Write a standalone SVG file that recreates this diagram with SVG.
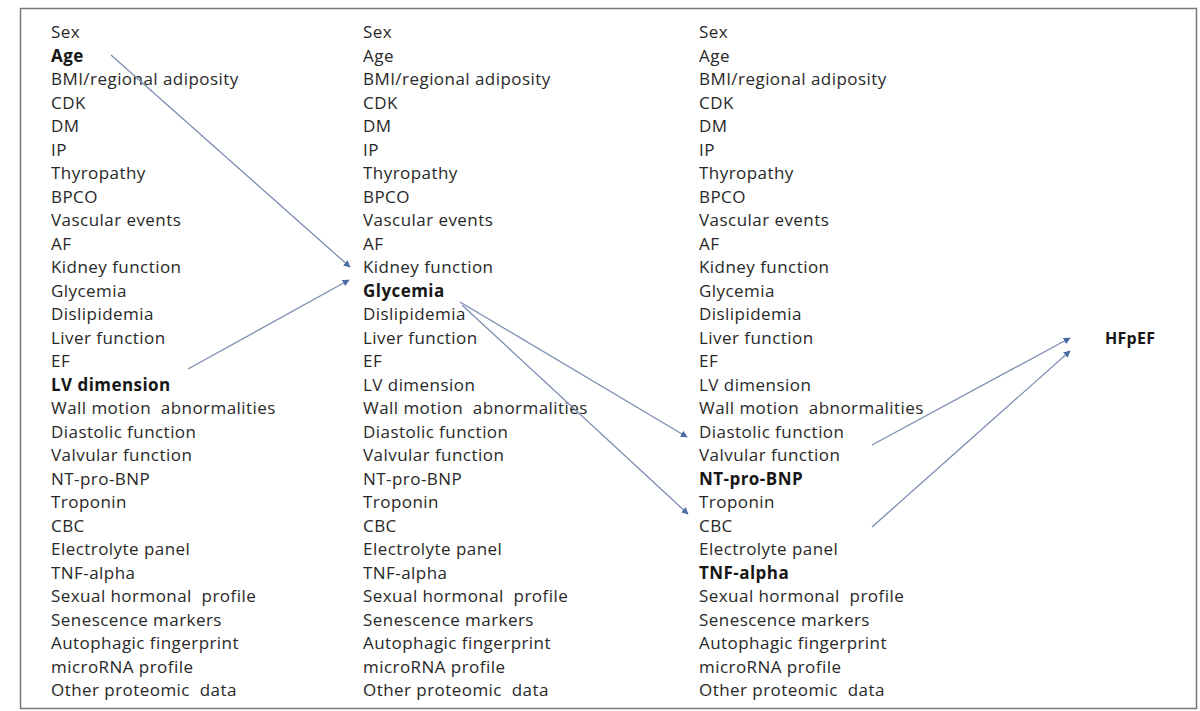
<svg xmlns="http://www.w3.org/2000/svg" width="1200" height="711" viewBox="0 0 1200 711">
<style>
text{font-family:"Open Sans",Lato,"Liberation Sans",sans-serif;font-size:17px;letter-spacing:0.45px;fill:#282828;white-space:pre}
.b{font-weight:bold;fill:#161616}
.c line{stroke:#7b8db0;stroke-width:1.3;marker-end:url(#ah)}
</style>
<defs>
<marker id="ah" viewBox="0 0 10 10" refX="9" refY="5" markerWidth="7" markerHeight="7" orient="auto" markerUnits="userSpaceOnUse">
<path d="M0,0L10,5L0,10z" fill="#4a6aa3"/>
</marker>
</defs>
<rect x="0" y="0" width="1200" height="711" fill="#fff"/>
<rect x="20.5" y="8.5" width="1176" height="700" fill="none" stroke="#777" stroke-width="1.5"/>
<g id="col1">
<text x="51" y="38">Sex</text>
<text x="51" y="61.5" class="b">Age</text>
<text x="51" y="85">BMI/regional adiposity</text>
<text x="51" y="108.5">CDK</text>
<text x="51" y="132">DM</text>
<text x="51" y="155.5">IP</text>
<text x="51" y="179">Thyropathy</text>
<text x="51" y="202.5">BPCO</text>
<text x="51" y="226">Vascular events</text>
<text x="51" y="249.5">AF</text>
<text x="51" y="273">Kidney function</text>
<text x="51" y="296.5">Glycemia</text>
<text x="51" y="320">Dislipidemia</text>
<text x="51" y="343.5">Liver function</text>
<text x="51" y="367">EF</text>
<text x="51" y="390.5" class="b">LV dimension</text>
<text x="51" y="414">Wall motion  abnormalities</text>
<text x="51" y="437.5">Diastolic function</text>
<text x="51" y="461">Valvular function</text>
<text x="51" y="484.5">NT-pro-BNP</text>
<text x="51" y="508">Troponin</text>
<text x="51" y="531.5">CBC</text>
<text x="51" y="555">Electrolyte panel</text>
<text x="51" y="578.5">TNF-alpha</text>
<text x="51" y="602">Sexual hormonal  profile</text>
<text x="51" y="625.5">Senescence markers</text>
<text x="51" y="649">Autophagic fingerprint</text>
<text x="51" y="672.5">microRNA profile</text>
<text x="51" y="696">Other proteomic  data</text>
</g>
<g id="col2">
<text x="363" y="38">Sex</text>
<text x="363" y="61.5">Age</text>
<text x="363" y="85">BMI/regional adiposity</text>
<text x="363" y="108.5">CDK</text>
<text x="363" y="132">DM</text>
<text x="363" y="155.5">IP</text>
<text x="363" y="179">Thyropathy</text>
<text x="363" y="202.5">BPCO</text>
<text x="363" y="226">Vascular events</text>
<text x="363" y="249.5">AF</text>
<text x="363" y="273">Kidney function</text>
<text x="363" y="296.5" class="b">Glycemia</text>
<text x="363" y="320">Dislipidemia</text>
<text x="363" y="343.5">Liver function</text>
<text x="363" y="367">EF</text>
<text x="363" y="390.5">LV dimension</text>
<text x="363" y="414">Wall motion  abnormalities</text>
<text x="363" y="437.5">Diastolic function</text>
<text x="363" y="461">Valvular function</text>
<text x="363" y="484.5">NT-pro-BNP</text>
<text x="363" y="508">Troponin</text>
<text x="363" y="531.5">CBC</text>
<text x="363" y="555">Electrolyte panel</text>
<text x="363" y="578.5">TNF-alpha</text>
<text x="363" y="602">Sexual hormonal  profile</text>
<text x="363" y="625.5">Senescence markers</text>
<text x="363" y="649">Autophagic fingerprint</text>
<text x="363" y="672.5">microRNA profile</text>
<text x="363" y="696">Other proteomic  data</text>
</g>
<g id="col3">
<text x="699" y="38">Sex</text>
<text x="699" y="61.5">Age</text>
<text x="699" y="85">BMI/regional adiposity</text>
<text x="699" y="108.5">CDK</text>
<text x="699" y="132">DM</text>
<text x="699" y="155.5">IP</text>
<text x="699" y="179">Thyropathy</text>
<text x="699" y="202.5">BPCO</text>
<text x="699" y="226">Vascular events</text>
<text x="699" y="249.5">AF</text>
<text x="699" y="273">Kidney function</text>
<text x="699" y="296.5">Glycemia</text>
<text x="699" y="320">Dislipidemia</text>
<text x="699" y="343.5">Liver function</text>
<text x="699" y="367">EF</text>
<text x="699" y="390.5">LV dimension</text>
<text x="699" y="414">Wall motion  abnormalities</text>
<text x="699" y="437.5">Diastolic function</text>
<text x="699" y="461">Valvular function</text>
<text x="699" y="484.5" class="b">NT-pro-BNP</text>
<text x="699" y="508">Troponin</text>
<text x="699" y="531.5">CBC</text>
<text x="699" y="555">Electrolyte panel</text>
<text x="699" y="578.5" class="b">TNF-alpha</text>
<text x="699" y="602">Sexual hormonal  profile</text>
<text x="699" y="625.5">Senescence markers</text>
<text x="699" y="649">Autophagic fingerprint</text>
<text x="699" y="672.5">microRNA profile</text>
<text x="699" y="696">Other proteomic  data</text>
</g>
<g id="hfpef">
<text x="1105" y="344" class="b" style="font-size:16px;letter-spacing:0.3px">HFpEF</text>
</g>
<g id="connectors" class="c">
<line x1="111" y1="55" x2="350" y2="267"/>
<line x1="188" y1="369" x2="349" y2="280"/>
<line x1="460" y1="302" x2="687" y2="437"/>
<line x1="462" y1="305" x2="688" y2="514"/>
<line x1="872" y1="445" x2="1070" y2="338"/>
<line x1="872" y1="527" x2="1070" y2="351"/>
</g>
</svg>
